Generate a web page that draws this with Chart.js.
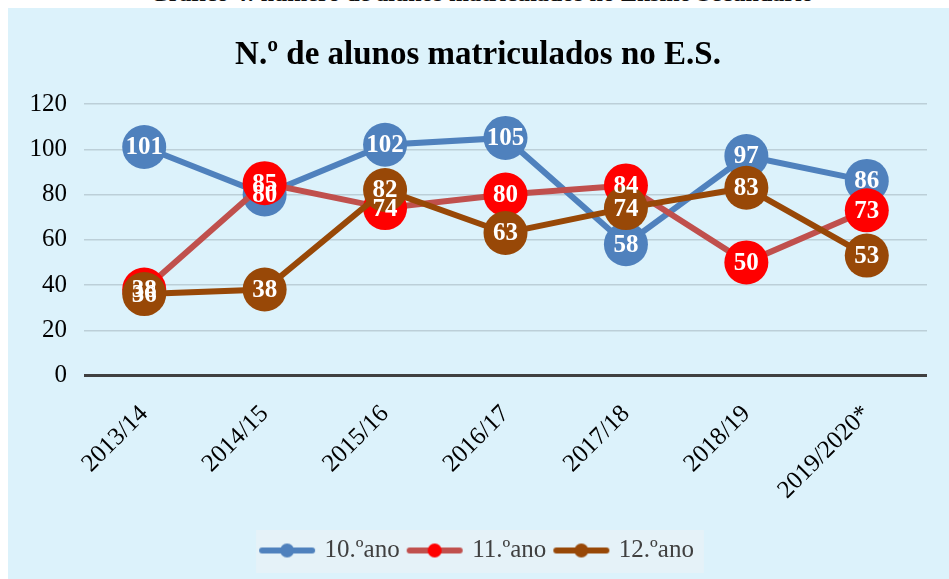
<!DOCTYPE html>
<html lang="pt">
<head>
<meta charset="utf-8">
<title>N.º de alunos matriculados no E.S.</title>
<script src="https://cdn.jsdelivr.net/npm/chart.js@4.4.1/dist/chart.umd.min.js"></script>
<style>
  html, body { margin: 0; padding: 0; background: #fff; width: 949px; height: 579px; overflow: hidden; }
  .caption {
    position: absolute; left: 150px; top: -20px; white-space: nowrap;
    font: bold 24px "Liberation Serif", serif; color: #111;
  }
  .box {
    position: absolute; left: 8px; top: 8px; width: 941px; height: 571px;
    background: #dcf2fb;
  }
</style>
</head>
<body>
<div class="caption">Gráfico 4: número de alunos matriculados no Ensino Secundário</div>
<div class="box"><canvas id="grafico" width="941" height="571"></canvas></div>
<script>
const anos = ['2013/14', '2014/15', '2015/16', '2016/17', '2017/18', '2018/19', '2019/2020*'];
const ano10 = [101, 80, 102, 105, 58, 97, 86];
const ano11 = [38, 85, 74, 80, 84, 50, 73];
const ano12 = [36, 38, 82, 63, 74, 83, 53];
const nomes = ['10.ºano', '11.ºano', '12.ºano'];

const corAzul = '#4f81bd';
const corVermelhoLinha = '#c0504d';
const corVermelho = '#ff0000';
const corCastanho = '#984807';

// marcador da legenda: linha com bolinha
function marcador(linha, ponto) {
  const c = document.createElement('canvas');
  c.width = 58; c.height = 16;
  const g = c.getContext('2d');
  g.strokeStyle = linha; g.lineWidth = 6; g.lineCap = 'round';
  g.beginPath(); g.moveTo(4, 8); g.lineTo(54, 8); g.stroke();
  g.fillStyle = ponto;
  g.beginPath(); g.arc(29, 8, 7, 0, Math.PI * 2); g.fill();
  return c;
}
const marcadores = [
  marcador(corAzul, corAzul),
  marcador(corVermelhoLinha, corVermelho),
  marcador(corCastanho, corCastanho)
];

const fundoLegenda = {
  id: 'fundoLegenda',
  beforeDraw(chart) {
    const boxes = chart.legend && chart.legend.legendHitBoxes;
    if (!boxes || !boxes.length) return;
    const first = boxes[0], last = boxes[boxes.length - 1];
    const ctx = chart.ctx;
    ctx.save();
    ctx.fillStyle = '#e5f2f8';
    ctx.fillRect(first.left - 6, first.top - 8, last.left + last.width - first.left + 16, first.height + 18);
    ctx.restore();
  }
};

const rotulos = {
  id: 'rotulos',
  afterDatasetsDraw(chart) {
    const ctx = chart.ctx;
    ctx.save();
    ctx.font = 'bold 25px "Liberation Serif", serif';
    ctx.fillStyle = '#ffffff';
    ctx.textAlign = 'center';
    ctx.textBaseline = 'middle';
    chart.data.datasets.forEach((ds, i) => {
      chart.getDatasetMeta(i).data.forEach((pt, j) => {
        ctx.fillText(String(ds.data[j]), pt.x, pt.y + 1);
      });
    });
    ctx.restore();
  }
};

function serie(label, data, linha, ponto, ordem) {
  return {
    label, data, order: ordem,
    borderColor: linha, backgroundColor: ponto,
    pointBackgroundColor: ponto, pointBorderWidth: 0,
    pointStyle: 'circle', pointRadius: 22, pointHoverRadius: 22,
    borderWidth: 6, tension: 0, clip: false
  };
}

new Chart(document.getElementById('grafico'), {
  type: 'line',
  data: {
    labels: anos,
    datasets: [
      serie(nomes[0], ano10, corAzul, corAzul, 3),
      serie(nomes[1], ano11, corVermelhoLinha, corVermelho, 2),
      serie(nomes[2], ano12, corCastanho, corCastanho, 1)
    ]
  },
  options: {
    responsive: false,
    animation: false,
    layout: { padding: { left: 18, right: 19, top: 0, bottom: 6 } },
    plugins: {
      title: {
        display: true,
        text: 'N.º de alunos matriculados no E.S.',
        color: '#000',
        font: { family: '"Liberation Serif", serif', size: 33, weight: 'bold' },
        padding: { top: 28, bottom: 28.4 }
      },
      legend: {
        position: 'bottom',
        labels: {
          usePointStyle: true,
          pointStyleWidth: 50,
          padding: 10,
          color: '#404040',
          font: { family: '"Liberation Serif", serif', size: 25 },
          generateLabels(chart) {
            return chart.data.datasets.map((ds, i) => ({
              text: ds.label, datasetIndex: i,
              pointStyle: marcadores[i],
              fillStyle: ds.backgroundColor, strokeStyle: ds.borderColor,
              lineWidth: 0, hidden: false, fontColor: '#404040'
            }));
          }
        }
      },
      tooltip: { enabled: false }
    },
    scales: {
      x: {
        offset: true,
        grid: { display: false },
        border: { display: false },
        ticks: {
          color: '#000',
          font: { family: '"Liberation Serif", serif', size: 25 },
          minRotation: 45, maxRotation: 45,
          padding: 16
        },
        afterFit(scale) { scale.height = 152.5; }
      },
      y: {
        min: 0, max: 120,
        grid: {
          drawTicks: false,
          color: (c) => c.tick && c.tick.value === 0 ? '#404040' : '#bccfd8',
          lineWidth: (c) => c.tick && c.tick.value === 0 ? 3 : 1.5
        },
        border: { display: false },
        ticks: {
          stepSize: 20,
          color: '#000',
          padding: 17,
          font: { family: '"Liberation Serif", serif', size: 25 }
        },
        afterFit(scale) { scale.width = 58; }
      }
    }
  },
  plugins: [fundoLegenda, rotulos]
});
</script>
</body>
</html>
